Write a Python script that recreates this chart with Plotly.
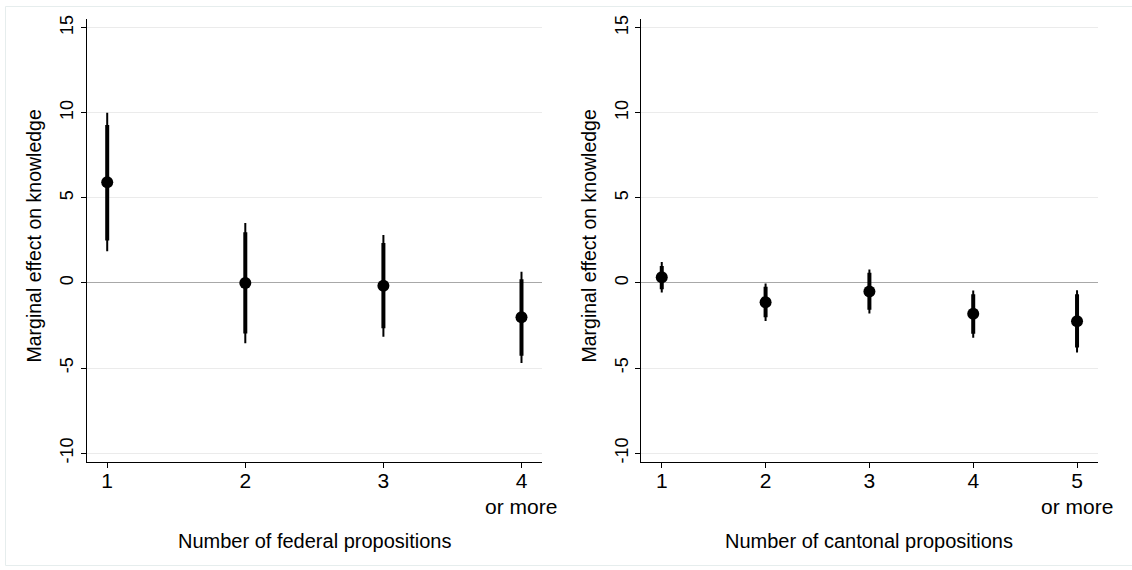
import plotly.graph_objects as go

# ---- data ----
fed_x = [1, 2, 3, 4]
fed_est = [5.91, 0.0, -0.16, -2.02]
fed_lo90 = [2.50, -2.97, -2.67, -4.28]
fed_hi90 = [9.28, 2.98, 2.34, 0.21]
fed_lo95 = [1.86, -3.55, -3.16, -4.71]
fed_hi95 = [10.0, 3.52, 2.81, 0.66]
fed_ticks = ["1", "2", "3", "4"]

can_x = [1, 2, 3, 4, 5]
can_est = [0.34, -1.13, -0.51, -1.81, -2.25]
can_lo90 = [-0.37, -2.02, -1.57, -2.99, -3.80]
can_hi90 = [1.00, -0.22, 0.60, -0.66, -0.66]
can_lo95 = [-0.56, -2.23, -1.79, -3.22, -4.09]
can_hi95 = [1.23, -0.04, 0.79, -0.45, -0.43]
can_ticks = ["1", "2", "3", "4", "5"]

y_ticks = [-10, -5, 0, 5, 10, 15]

W, H = 1132, 570
FONT = "Liberation Sans, Arial, Helvetica, sans-serif"

fig = go.Figure()


def add_panel(x, est, lo90, hi90, lo95, hi95, xa, ya):
    fig.add_trace(go.Scatter(
        x=x, y=est, mode="markers", xaxis=xa, yaxis=ya,
        marker=dict(size=1, color="rgba(0,0,0,0)"),
        error_y=dict(type="data", symmetric=False,
                     array=[h - e for h, e in zip(hi95, est)],
                     arrayminus=[e - l for e, l in zip(est, lo95)],
                     thickness=2, width=0, color="black"),
        showlegend=False, hoverinfo="skip"))
    fig.add_trace(go.Scatter(
        x=x, y=est, mode="markers", xaxis=xa, yaxis=ya,
        marker=dict(size=12, color="black"),
        error_y=dict(type="data", symmetric=False,
                     array=[h - e for h, e in zip(hi90, est)],
                     arrayminus=[e - l for e, l in zip(est, lo90)],
                     thickness=4, width=0, color="black"),
        showlegend=False))


add_panel(fed_x, fed_est, fed_lo90, fed_hi90, fed_lo95, fed_hi95, "x", "y")
add_panel(can_x, can_est, can_lo90, can_hi90, can_lo95, can_hi95, "x2", "y2")

ydom = [(H - 462.5) / H, (H - 15.3) / H]
xdom1 = [86.5 / W, 542.2 / W]
xdom2 = [641.0 / W, 1097.8 / W]

yaxis_common = dict(
    range=[-10.5, 15.5], tickvals=y_ticks, ticktext=[str(v) for v in y_ticks],
    tickangle=-90, showgrid=True, gridcolor="#ebebeb", gridwidth=1,
    zeroline=True, zerolinecolor="#a8a8a8", zerolinewidth=1,
    showline=True, linecolor="black", linewidth=1,
    ticks="outside", ticklen=5, tickcolor="black", tickwidth=1,
    tickfont=dict(family=FONT, size=18, color="black"), domain=ydom,
)
xaxis_common = dict(
    showgrid=False, zeroline=False, showline=True, linecolor="black", linewidth=1,
    ticks="outside", ticklen=5, tickcolor="black", tickwidth=1,
    ticklabelstandoff=-5,
    tickfont=dict(family=FONT, size=21, color="black"),
)

fig.update_layout(
    width=W, height=H, margin=dict(l=0, r=0, t=0, b=0),
    paper_bgcolor="white", plot_bgcolor="white",
    xaxis=dict(domain=xdom1, range=[0.85, 4.15], tickvals=fed_x, ticktext=fed_ticks,
               anchor="y", **xaxis_common),
    yaxis=dict(anchor="x", **yaxis_common),
    xaxis2=dict(domain=xdom2, range=[0.8, 5.2], tickvals=can_x, ticktext=can_ticks,
                anchor="y2", **xaxis_common),
    yaxis2=dict(anchor="x2", **yaxis_common),
    showlegend=False,
)

ann_font_y = dict(family=FONT, size=19.5, color="black")
ann_font_t = dict(family=FONT, size=20, color="black")
ann_font_k = dict(family=FONT, size=21, color="black")
annotations = [
    dict(text="Marginal effect on knowledge", textangle=-90, xref="paper", yref="paper",
         x=34 / W, y=(H - 235) / H, showarrow=False, font=ann_font_y,
         xanchor="center", yanchor="middle"),
    dict(text="Marginal effect on knowledge", textangle=-90, xref="paper", yref="paper",
         x=589 / W, y=(H - 235) / H, showarrow=False, font=ann_font_y,
         xanchor="center", yanchor="middle"),
    dict(text="Number of federal propositions", xref="paper", yref="paper",
         x=sum(xdom1) / 2, y=(H - 543) / H, showarrow=False, font=ann_font_t,
         xanchor="center", yanchor="middle"),
    dict(text="Number of cantonal propositions", xref="paper", yref="paper",
         x=sum(xdom2) / 2, y=(H - 543) / H, showarrow=False, font=ann_font_t,
         xanchor="center", yanchor="middle"),
    dict(text="or more", xref="x", yref="paper", x=fed_x[-1], y=(H - 508) / H,
         showarrow=False, font=ann_font_k, xanchor="center", yanchor="middle"),
    dict(text="or more", xref="x2", yref="paper", x=can_x[-1], y=(H - 508) / H,
         showarrow=False, font=ann_font_k, xanchor="center", yanchor="middle"),
]
fig.update_layout(annotations=annotations)

fig.add_shape(type="rect", xref="paper", yref="paper",
              x0=5.5 / W, x1=1140 / W, y0=(H - 567.5) / H, y1=(H - 2.5) / H,
              line=dict(color="#e6eded", width=1), fillcolor="rgba(0,0,0,0)", layer="below")

fig.write_html("out.html", config={"displayModeBar": False},
               post_script="document.body.style.margin='0';")
